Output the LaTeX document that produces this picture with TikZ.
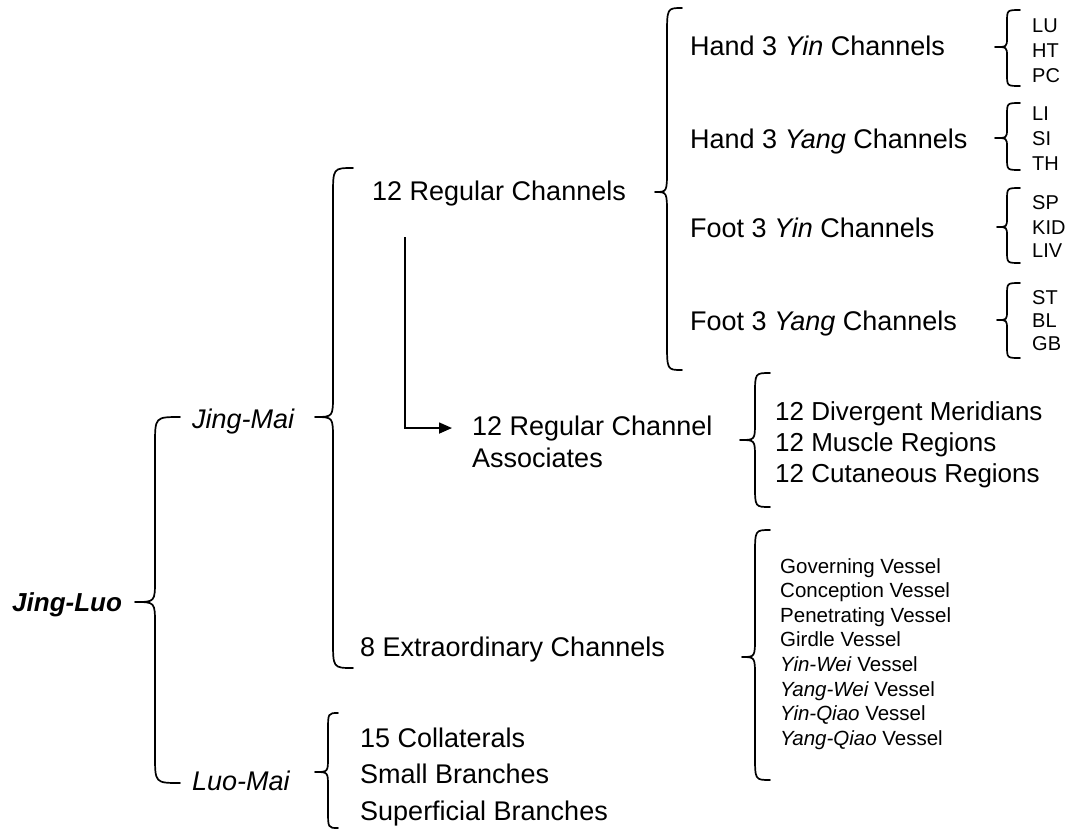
\documentclass[tikz,border=0pt]{standalone}
\usepackage{fontspec}
\setmainfont{Liberation Sans}
\usetikzlibrary{arrows.meta}
\newcommand{\mybrace}[7]{% tip-x, line-x, end-x, top, mid, bottom, radius
  \draw[brc] (#3,#4) .. controls (#2,#4) .. (#2,{#4+#7}) -- (#2,{#5-0.8*#7})
    .. controls (#2,#5) .. (#1,#5) .. controls (#2,#5) .. (#2,{#5+0.8*#7})
    -- (#2,{#6-#7}) .. controls (#2,#6) .. (#3,#6);}
\begin{document}
\begin{tikzpicture}[x=1pt,y=-1pt,
  lbl/.style={anchor=base west, inner sep=0pt, font=\fontsize{27}{30}\selectfont},
  mid/.style={anchor=base west, inner sep=0pt, font=\fontsize{26}{30}\selectfont},
  sm/.style={anchor=base west, inner sep=0pt, font=\fontsize{20}{22}\selectfont},
  ves/.style={anchor=base west, inner sep=0pt, font=\fontsize{20.5}{22}\selectfont},
  brc/.style={line width=1.7pt, line join=round, line cap=round},
  arr/.style={line width=1.6pt, -{Triangle[length=13pt,width=11pt]}}]
\useasboundingbox (0,0) rectangle (1065,831);
\fill[white] (0,0) rectangle (1065,831);

% texts
\node[mid] (jl) at (12,611) {\textbf{\textit{Jing-Luo}}};
\node[lbl] (jm) at (192,428) {\textit{Jing-Mai}};
\node[lbl] (lm) at (192,790) {\textit{Luo-Mai}};
\node[lbl] (rc) at (372,200) {12 Regular Channels};
\node[lbl] (ec) at (360,656) {8 Extraordinary Channels};
\node[lbl] (c15) at (360,747) {15 Collaterals};
\node[lbl] (sb) at (360,783) {Small Branches};
\node[lbl] (sf) at (360,820) {Superficial Branches};
\node[lbl] (asA) at (472,435) {12 Regular Channel};
\node[lbl] (asB) at (472,467) {Associates};
\node[lbl] (h1) at (690,55) {Hand 3 \textit{Yin} Channels};
\node[lbl] (h2) at (690,148) {Hand 3 \textit{Yang} Channels};
\node[lbl] (f1) at (690,237) {Foot 3 \textit{Yin} Channels};
\node[lbl] (f2) at (690,330) {Foot 3 \textit{Yang} Channels};
\node[mid] (dm) at (775,420) {12 Divergent Meridians};
\node[mid] (mr) at (775,451) {12 Muscle Regions};
\node[mid] (cr) at (775,482) {12 Cutaneous Regions};
\node[ves] (v1) at (780,573) {Governing Vessel};
\node[ves] (v2) at (780,597.6) {Conception Vessel};
\node[ves] (v3) at (780,622.2) {Penetrating Vessel};
\node[ves] (v4) at (780,646.8) {Girdle Vessel};
\node[ves] (v5) at (780,671.4) {\textit{Yin-Wei} Vessel};
\node[ves] (v6) at (780,696) {\textit{Yang-Wei} Vessel};
\node[ves] (v7) at (780,720.6) {\textit{Yin-Qiao} Vessel};
\node[ves] (v8) at (780,745.2) {\textit{Yang-Qiao} Vessel};
\node[sm] (lu) at (1032,32) {LU};
\node[sm] (ht) at (1032,57) {HT};
\node[sm] (pc) at (1032,82) {PC};
\node[sm] (li) at (1032,120) {LI};
\node[sm] (si) at (1032,145) {SI};
\node[sm] (th) at (1032,170) {TH};
\node[sm] (sp) at (1032,209) {SP};
\node[sm] (kid) at (1032,234) {KID};
\node[sm] (liv) at (1032,257) {LIV};
\node[sm] (st) at (1032,304) {ST};
\node[sm] (bl) at (1032,327) {BL};
\node[sm] (gb) at (1032,350) {GB};

% braces
\mybrace{135}{155}{180}{417}{602}{783}{28}
\mybrace{315}{333}{353}{168}{417}{668}{28}
\mybrace{655}{667}{682}{8}{192}{370}{28}
\mybrace{315}{328}{338}{713}{772}{828}{18}
\mybrace{740}{755}{770}{373}{440}{507}{22}
\mybrace{742}{755}{770}{530}{657}{780}{25}
\mybrace{995}{1007}{1020}{10}{47}{86}{12}
\mybrace{995}{1007}{1020}{103}{138}{170}{12}
\mybrace{997}{1007}{1020}{188}{227}{263}{12}
\mybrace{997}{1007}{1020}{283}{320}{358}{12}

% arrow
\coordinate (arrtop) at (405,237);
\draw[arr] (arrtop) |- ([xshift=-20pt]asA.west);
\end{tikzpicture}
\end{document}
